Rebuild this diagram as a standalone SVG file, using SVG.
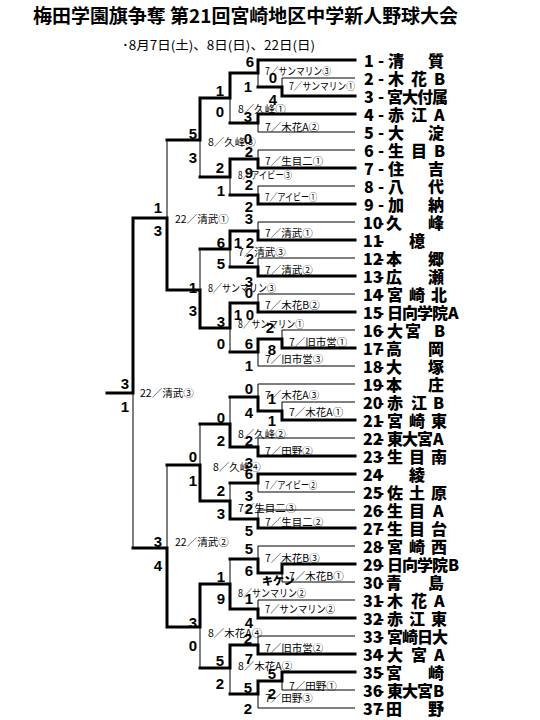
<svg xmlns="http://www.w3.org/2000/svg" width="540" height="720" viewBox="0 0 540 720">
<style>
.tk{fill:none;stroke:#000;stroke-width:3;stroke-linecap:square}
.tn{fill:none;stroke:#000;stroke-width:1}
.tt{font-family:"Noto Sans CJK JP","Liberation Sans",sans-serif;font-weight:bold;font-size:19px}
.st{font-family:"Noto Sans CJK JP","Liberation Sans",sans-serif;font-size:12.5px}
.tm{font-family:"Noto Sans CJK JP","Liberation Sans",sans-serif;font-weight:900;font-size:16px;dominant-baseline:central}
.sc{font-family:"Liberation Sans",sans-serif;font-weight:bold;font-size:15px;text-anchor:middle;dominant-baseline:central}
.lb{font-family:"Noto Sans CJK JP","Liberation Sans",sans-serif;font-size:10.5px;dominant-baseline:central}
</style>
<rect width="540" height="720" fill="#fff"/>
<text class="tt" x="33" y="23" textLength="425" lengthAdjust="spacingAndGlyphs">梅田学園旗争奪 第21回宮崎地区中学新人野球大会</text>
<text class="st" x="122" y="50" textLength="193" lengthAdjust="spacingAndGlyphs">･8月7日(土)、8日(日)、22日(日)</text>

<g id="connectors">
<path class="tn" d="M282 78H355M258 132H355M258 150H355M258 186H355M258 222H355M258 258H355M258 294H355M282 330H355M258 366H355M258 384H355M282 402H355M258 438H355M258 492H355M258 510H355M258 546H355M282 582H355M258 600H355M258 636H355M282 690H355M258 708H355
M282 78V87M258 87V73M258 132V123M230 123V98M258 150V159M258 186V195M230 195V177M200 177V140M258 222V231M258 258V267M230 267V249M258 294V303M282 330V339M258 366V352M230 352V328M200 249V290M167 140V218
M282 402V411M258 384V397M258 438V447M230 397V424M258 492V483M258 510V519M230 483V501M200 424V465M282 582V573M258 546V559M258 600V609M230 559V584M258 636V645M282 690V681M258 708V694M230 694V668M200 668V627M167 465V548M133 548V393"/>
<path class="tk" d="M258 60H355M282 96H355M258 114H355M258 168H355M258 204H355M258 240H355M258 276H355M258 312H355M282 348H355M282 420H355M258 456H355M258 474H355M258 528H355M282 564H355M258 618H355M258 654H355M282 672H355
M282 96V87H258M258 60V73H230M258 114V123H230M230 73V98H200M258 168V159H230M258 204V195H230M230 159V177H200M200 98V140H167M258 240V231H230M258 276V267H230M230 231V249H200M258 312V303H230M282 348V339H258M258 339V352H230M230 303V328H200M200 328V290H167M167 290V218H133
M282 420V411H258M258 411V397H230M258 456V447H230M230 447V424H200M258 474V483H230M258 528V519H230M230 519V501H200M200 501V465H167M282 564V573H258M258 573V559H230M258 618V609H230M230 609V584H200M258 654V645H230M282 672V681H258M258 681V694H230M230 645V668H200M200 584V627H167M167 627V548H133M133 218V393H107"/>
</g>

<g id="labels">
<text class="lb" x="265" y="70" textLength="66" lengthAdjust="spacingAndGlyphs">7／サンマリン③</text>
<text class="lb" x="289" y="85" textLength="66" lengthAdjust="spacingAndGlyphs">7／サンマリン①</text>
<text class="lb" x="238" y="108">8／久峰①</text>
<text class="lb" x="265" y="126">7／木花A②</text>
<text class="lb" x="208" y="141">8／久峰③</text>
<text class="lb" x="265" y="160">7／生目二①</text>
<text class="lb" x="238" y="174" textLength="54" lengthAdjust="spacingAndGlyphs">8／アイビー③</text>
<text class="lb" x="265" y="196" textLength="52" lengthAdjust="spacingAndGlyphs">7／アイビー①</text>
<text class="lb" x="175" y="218">22／清武①</text>
<text class="lb" x="265" y="232">7／清武①</text>
<text class="lb" x="238" y="251">7／清武③</text>
<text class="lb" x="265" y="269">7／清武②</text>
<text class="lb" x="208" y="287" textLength="68" lengthAdjust="spacingAndGlyphs">8／サンマリン③</text>
<text class="lb" x="265" y="304">7／木花B②</text>
<text class="lb" x="238" y="323" textLength="66" lengthAdjust="spacingAndGlyphs">8／サンマリン①</text>
<text class="lb" x="289" y="341">7／旧市営①</text>
<text class="lb" x="265" y="358">7／旧市営③</text>
<text class="lb" x="140" y="392">22／清武③</text>
<text class="lb" x="265" y="394">7／木花A③</text>
<text class="lb" x="289" y="411">7／木花A①</text>
<text class="lb" x="238" y="433">8／久峰②</text>
<text class="lb" x="265" y="450">7／田野②</text>
<text class="lb" x="213" y="466">8／久峰④</text>
<text class="lb" x="265" y="484" textLength="52" lengthAdjust="spacingAndGlyphs">7／アイビー②</text>
<text class="lb" x="238" y="507">7／生目二③</text>
<text class="lb" x="265" y="521">7／生目二②</text>
<text class="lb" x="175" y="541">22／清武②</text>
<text class="lb" x="265" y="557">7／木花B③</text>
<text class="lb" x="289" y="575">7／木花B①</text>
<text class="lb" x="238" y="592" textLength="68" lengthAdjust="spacingAndGlyphs">8／サンマリン②</text>
<text class="lb" x="265" y="608" textLength="70" lengthAdjust="spacingAndGlyphs">7／サンマリン②</text>
<text class="lb" x="208" y="632">8／木花A④</text>
<text class="lb" x="265" y="647">7／旧市営②</text>
<text class="lb" x="238" y="665">8／木花A②</text>
<text class="lb" x="289" y="685">7／田野①</text>
<text class="lb" x="265" y="697">7／田野③</text>
</g>

<g id="scores">
<text class="sc" x="250" y="61">6</text>
<text class="sc" x="273" y="77">0</text>
<text class="sc" x="248" y="86">1</text>
<text class="sc" x="273" y="99">4</text>
<text class="sc" x="220" y="90">1</text>
<text class="sc" x="220" y="111">0</text>
<text class="sc" x="248" y="116">3</text>
<text class="sc" x="193" y="133">5</text>
<text class="sc" x="248" y="138">0</text>
<text class="sc" x="249" y="151">2</text>
<text class="sc" x="193" y="157">3</text>
<text class="sc" x="220" y="167">2</text>
<text class="sc" x="249" y="172">9</text>
<text class="sc" x="249" y="184">2</text>
<text class="sc" x="221" y="190">1</text>
<text class="sc" x="249" y="206">2</text>
<text class="sc" x="158" y="207">1</text>
<text class="sc" x="249" y="218">3</text>
<text class="sc" x="158" y="230">3</text>
<text class="sc" x="221" y="242">6</text>
<text class="sc" x="238 250" y="242">12</text>
<text class="sc" x="250" y="258">2</text>
<text class="sc" x="221" y="263">5</text>
<text class="sc" x="249" y="281">3</text>
<text class="sc" x="193" y="287">1</text>
<text class="sc" x="249" y="292">0</text>
<text class="sc" x="193" y="310">3</text>
<text class="sc" x="238 250" y="314">10</text>
<text class="sc" x="221" y="321">3</text>
<text class="sc" x="270" y="327">2</text>
<text class="sc" x="221" y="343">0</text>
<text class="sc" x="249" y="343">6</text>
<text class="sc" x="272" y="349">8</text>
<text class="sc" x="249" y="365">1</text>
<text class="sc" x="125" y="383">3</text>
<text class="sc" x="125" y="406">1</text>
<text class="sc" x="249" y="388">0</text>
<text class="sc" x="272" y="398">1</text>
<text class="sc" x="249" y="412">4</text>
<text class="sc" x="221" y="417">0</text>
<text class="sc" x="272" y="420">1</text>
<text class="sc" x="221" y="440">2</text>
<text class="sc" x="249" y="440">2</text>
<text class="sc" x="193" y="456">0</text>
<text class="sc" x="249" y="462">3</text>
<text class="sc" x="249" y="473">6</text>
<text class="sc" x="193" y="480">1</text>
<text class="sc" x="221" y="490">2</text>
<text class="sc" x="249" y="495">3</text>
<text class="sc" x="249" y="508">2</text>
<text class="sc" x="221" y="513">3</text>
<text class="sc" x="249" y="530">5</text>
<text class="sc" x="158" y="541">3</text>
<text class="sc" x="249" y="548">5</text>
<text class="sc" x="158" y="565">4</text>
<text class="sc" x="249" y="570">6</text>
<text class="sc" x="221" y="576">1</text>
<text class="sc" x="221" y="598">9</text>
<text class="sc" x="249" y="598">1</text>
<text class="sc" x="249" y="622">4</text>
<text class="sc" x="193" y="622">3</text>
<text class="sc" x="248" y="638">2</text>
<text class="sc" x="193" y="645">0</text>
<text class="sc" x="220" y="660">5</text>
<text class="sc" x="249" y="658">7</text>
<text class="sc" x="272" y="673">5</text>
<text class="sc" x="220" y="683">2</text>
<text class="sc" x="248" y="687">5</text>
<text class="sc" x="272" y="693">2</text>
<text class="sc" x="248" y="708">2</text>
<text class="tm" x="262" y="580" style="font-size:11px">キケン</text>
</g>

<g id="teams" class="tm">
<g id="team1"><text y="60"><tspan x="364">1</tspan><tspan x="378">-</tspan><tspan x="388 428">清質</tspan></text></g>
<g id="team2"><text y="78"><tspan x="364">2</tspan><tspan x="378">-</tspan><tspan x="388 411 434">木花B</tspan></text></g>
<g id="team3"><text y="96"><tspan x="364">3</tspan><tspan x="378">-</tspan><tspan x="387 402 417 432">宮大付属</tspan></text></g>
<g id="team4"><text y="114"><tspan x="364">4</tspan><tspan x="378">-</tspan><tspan x="388 411 434">赤江A</tspan></text></g>
<g id="team5"><text y="132"><tspan x="364">5</tspan><tspan x="378">-</tspan><tspan x="388 428">大淀</tspan></text></g>
<g id="team6"><text y="150"><tspan x="364">6</tspan><tspan x="378">-</tspan><tspan x="388 411 434">生目B</tspan></text></g>
<g id="team7"><text y="168"><tspan x="364">7</tspan><tspan x="378">-</tspan><tspan x="388 428">住吉</tspan></text></g>
<g id="team8"><text y="186"><tspan x="364">8</tspan><tspan x="378">-</tspan><tspan x="388 428">八代</tspan></text></g>
<g id="team9"><text y="204"><tspan x="364">9</tspan><tspan x="378">-</tspan><tspan x="388 428">加納</tspan></text></g>
<g id="team10"><text y="222"><tspan x="363">10</tspan><tspan x="378">-</tspan><tspan x="386 428">久峰</tspan></text></g>
<g id="team11"><text y="240"><tspan x="363">11</tspan><tspan x="378">-</tspan><tspan x="409">檍</tspan></text></g>
<g id="team12"><text y="258"><tspan x="363">12</tspan><tspan x="378">-</tspan><tspan x="386 428">本郷</tspan></text></g>
<g id="team13"><text y="276"><tspan x="363">13</tspan><tspan x="378">-</tspan><tspan x="386 428">広瀬</tspan></text></g>
<g id="team14"><text y="294"><tspan x="363">14</tspan><tspan x="378">-</tspan><tspan x="387 409 431">宮崎北</tspan></text></g>
<g id="team15"><text y="312"><tspan x="363">15</tspan><tspan x="378">-</tspan><tspan x="387 402 417 432 448">日向学院A</tspan></text></g>
<g id="team16"><text y="330"><tspan x="363">16</tspan><tspan x="378">-</tspan><tspan x="387 405 434">大宮B</tspan></text></g>
<g id="team17"><text y="348"><tspan x="363">17</tspan><tspan x="378">-</tspan><tspan x="386 428">高岡</tspan></text></g>
<g id="team18"><text y="366"><tspan x="363">18</tspan><tspan x="378">-</tspan><tspan x="386 428">大塚</tspan></text></g>
<g id="team19"><text y="384"><tspan x="363">19</tspan><tspan x="378">-</tspan><tspan x="386 428">本庄</tspan></text></g>
<g id="team20"><text y="402"><tspan x="363">20</tspan><tspan x="378">-</tspan><tspan x="387 411 433">赤江B</tspan></text></g>
<g id="team21"><text y="420"><tspan x="363">21</tspan><tspan x="378">-</tspan><tspan x="387 409 431">宮崎東</tspan></text></g>
<g id="team22"><text y="438"><tspan x="363">22</tspan><tspan x="378">-</tspan><tspan x="387 402 417 433">東大宮A</tspan></text></g>
<g id="team23"><text y="456"><tspan x="363">23</tspan><tspan x="378">-</tspan><tspan x="387 409 431">生目南</tspan></text></g>
<g id="team24"><text y="474"><tspan x="363">24</tspan><tspan x="378">-</tspan><tspan x="409">綾</tspan></text></g>
<g id="team25"><text y="492"><tspan x="363">25</tspan><tspan x="378">-</tspan><tspan x="387 409 431">佐土原</tspan></text></g>
<g id="team26"><text y="510"><tspan x="363">26</tspan><tspan x="378">-</tspan><tspan x="387 409 433">生目A</tspan></text></g>
<g id="team27"><text y="528"><tspan x="363">27</tspan><tspan x="378">-</tspan><tspan x="387 409 431">生目台</tspan></text></g>
<g id="team28"><text y="546"><tspan x="363">28</tspan><tspan x="378">-</tspan><tspan x="387 409 431">宮崎西</tspan></text></g>
<g id="team29"><text y="564"><tspan x="363">29</tspan><tspan x="378">-</tspan><tspan x="387 402 417 432 448">日向学院B</tspan></text></g>
<g id="team30"><text y="582"><tspan x="363">30</tspan><tspan x="378">-</tspan><tspan x="386 428">青島</tspan></text></g>
<g id="team31"><text y="600"><tspan x="363">31</tspan><tspan x="378">-</tspan><tspan x="387 411 434">木花A</tspan></text></g>
<g id="team32"><text y="618"><tspan x="363">32</tspan><tspan x="378">-</tspan><tspan x="387 409 431">赤江東</tspan></text></g>
<g id="team33"><text y="636"><tspan x="363">33</tspan><tspan x="378">-</tspan><tspan x="387 402 417 432">宮崎日大</tspan></text></g>
<g id="team34"><text y="654"><tspan x="363">34</tspan><tspan x="378">-</tspan><tspan x="387 411 434">大宮A</tspan></text></g>
<g id="team35"><text y="672"><tspan x="363">35</tspan><tspan x="378">-</tspan><tspan x="386 428">宮崎</tspan></text></g>
<g id="team36"><text y="690"><tspan x="363">36</tspan><tspan x="378">-</tspan><tspan x="387 402 417 433">東大宮B</tspan></text></g>
<g id="team37"><text y="708"><tspan x="363">37</tspan><tspan x="378">-</tspan><tspan x="386 428">田野</tspan></text></g>
</g>
</svg>
